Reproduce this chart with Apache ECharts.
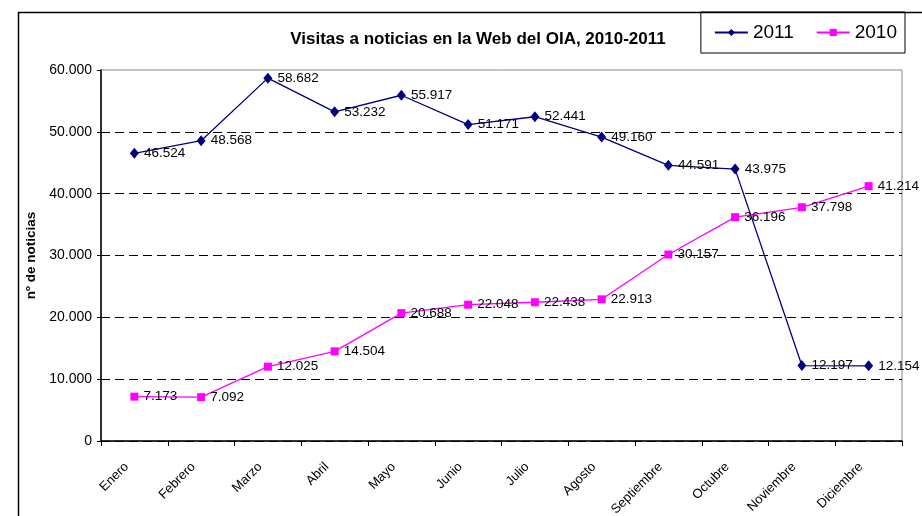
<!DOCTYPE html>
<html>
<head>
<meta charset="utf-8">
<script src="https://cdn.jsdelivr.net/npm/echarts@6/dist/echarts.min.js"></script>
<style>
  html, body { margin: 0; padding: 0; background: #fff; }
  #chart { width: 922px; height: 516px; }
</style>
</head>
<body>
<div id="chart"></div>
<script>
// Data
var months = ['Enero', 'Febrero', 'Marzo', 'Abril', 'Mayo', 'Junio', 'Julio',
    'Agosto', 'Septiembre', 'Octubre', 'Noviembre', 'Diciembre'];
var visitas2011 = [46524, 48568, 58682, 53232, 55917, 51171, 52441, 49160, 44591, 43975, 12197, 12154];
var visitas2010 = [7173, 7092, 12025, 14504, 20688, 22048, 22438, 22913, 30157, 36196, 37798, 41214];

// Number format with dot as thousands separator
var fmt = function(v) {
    return String(v).replace(/\B(?=(\d{3})+(?!\d))/g, '.');
};

var chart = echarts.init(document.getElementById('chart'));

var options = {
    animation: false,
    textStyle: {
        fontFamily: 'Arial, "Liberation Sans", sans-serif',
        color: '#000'
    },

    title: {
        text: 'Visitas a noticias en la Web del OIA, 2010-2011',
        left: 473,
        top: 26,
        textAlign: 'center',
        textStyle: {
            fontSize: 17,
            fontWeight: 'bold',
            color: '#000'
        }
    },

    legend: {
        data: ['2011', '2010'],
        right: 17,
        top: 12,
        padding: [11, 8, 11, 13],
        borderColor: '#000',
        borderWidth: 1,
        itemWidth: 33,
        itemHeight: 9,
        itemGap: 22,
        textStyle: {
            fontSize: 19,
            color: '#000'
        }
    },

    grid: {
        left: 101,
        right: 20,
        top: 70,
        bottom: 75,
        outerBoundsMode: 'none',
        show: true,
        borderColor: '#888',
        borderWidth: 1
    },

    xAxis: {
        type: 'category',
        data: months,
        boundaryGap: true,
        axisLine: { lineStyle: { color: '#000', width: 1.5 } },
        axisTick: { show: true, length: 5, lineStyle: { color: '#000' } },
        axisLabel: {
            rotate: 45,
            fontSize: 13,
            color: '#000',
            margin: 16,
            padding: [0, 11, 0, 0]
        }
    },

    yAxis: {
        type: 'value',
        min: 0,
        max: 60000,
        interval: 10000,
        name: 'nº de noticias',
        nameLocation: 'middle',
        nameGap: 62,
        nameTextStyle: {
            fontSize: 13.5,
            fontWeight: 'bold',
            color: '#000'
        },
        axisLine: { show: true, lineStyle: { color: '#000', width: 1.5 } },
        axisTick: { show: true, length: 4, lineStyle: { color: '#000' } },
        axisLabel: {
            fontSize: 14,
            color: '#000',
            margin: 9,
            formatter: fmt
        },
        splitLine: {
            showMaxLine: false,
            lineStyle: { color: '#000', type: [9, 5], width: 1 }
        }
    },

    series: [{
        name: '2011',
        type: 'line',
        data: visitas2011,
        color: '#000080',
        symbol: 'diamond',
        symbolSize: [9, 11],
        lineStyle: { width: 1.3, color: '#000080' },
        itemStyle: { color: '#000080' },
        label: {
            show: true,
            position: 'right',
            distance: 5,
            fontSize: 13.5,
            color: '#000',
            formatter: function(p) { return fmt(p.value); }
        }
    }, {
        name: '2010',
        type: 'line',
        data: visitas2010,
        color: '#ff00ff',
        symbol: 'rect',
        symbolSize: 8,
        lineStyle: { width: 1.3, color: '#ff00ff' },
        itemStyle: { color: '#ff00ff' },
        label: {
            show: true,
            position: 'right',
            distance: 5,
            fontSize: 13.5,
            color: '#000',
            formatter: function(p) { return fmt(p.value); }
        }
    }],

    // Outer chart-area frame (extends past the window on the right/bottom)
    graphic: [{
        type: 'rect',
        left: 16,
        top: 10,
        shape: { width: 1000, height: 1000 },
        style: { fill: 'none', stroke: '#000', lineWidth: 1.5 },
        silent: true
    }]
};

chart.setOption(options);
</script>
</body>
</html>
